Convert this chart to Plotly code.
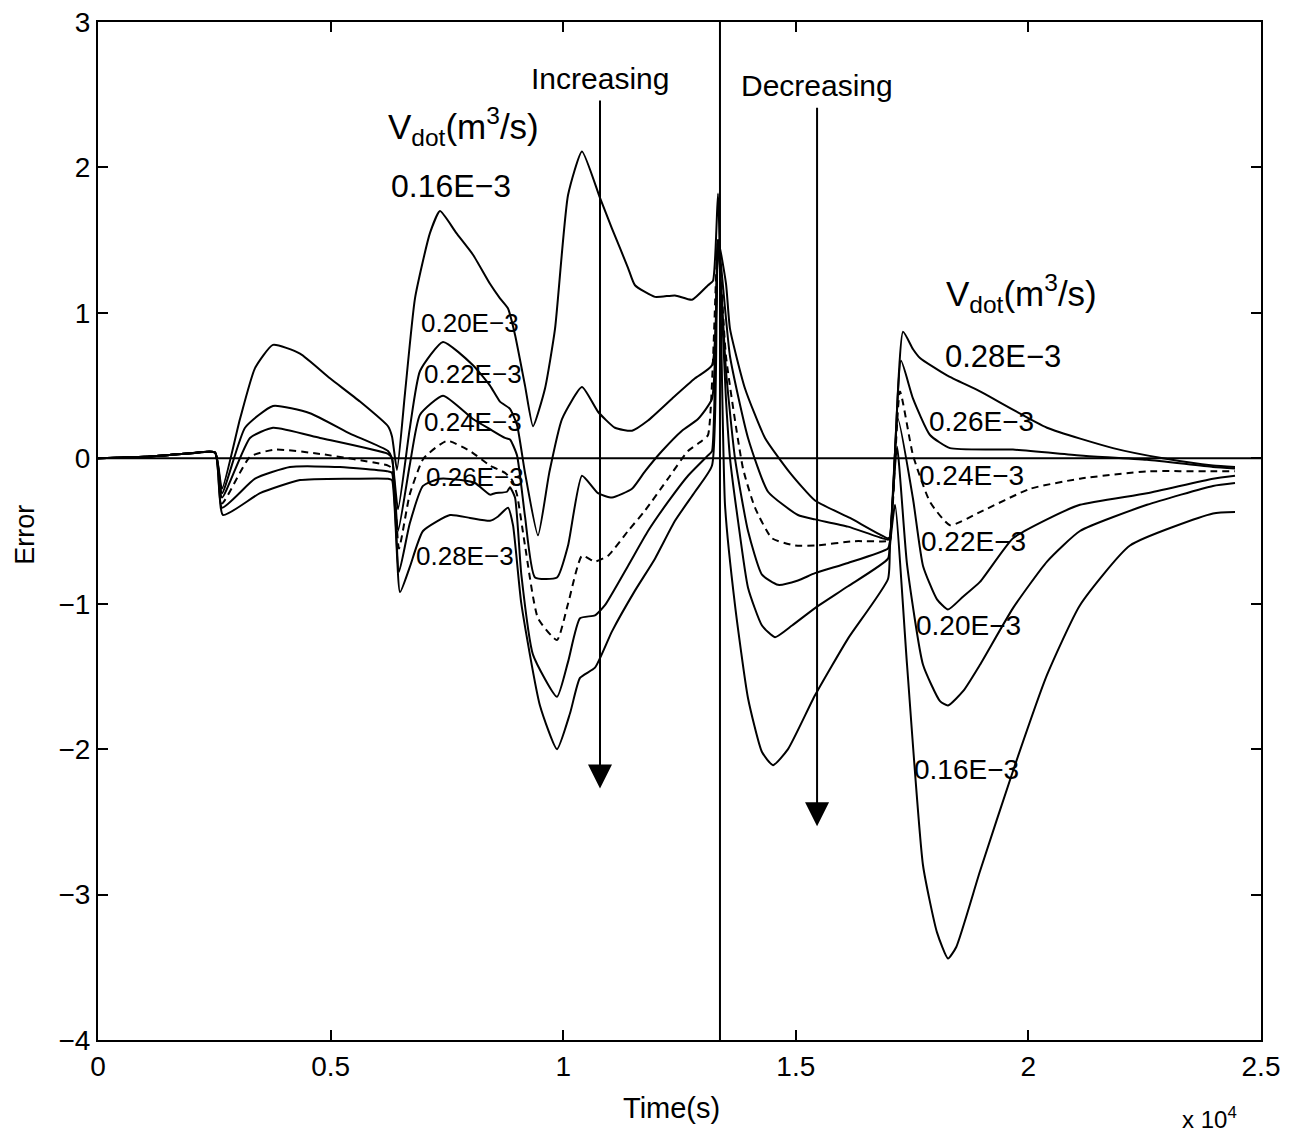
import plotly.graph_objects as go

# ---------------- data (time in seconds, error) ----------------
t_016 = [0, 1000, 2000, 2515, 2665, 3052, 3375, 3762, 4342, 4987, 5632, 6234, 6320, 6427, 6600, 6814,
         7137, 7352, 7700, 8061, 8426, 8641, 8814, 8964, 9179, 9351, 9609, 9824, 10104, 10404,
         10791, 11049, 11393, 11543, 11973, 12403, 12769, 13113, 13220, 13328, 13478, 13693, 13973,
         14273, 14510, 14833, 15413, 16122, 16982, 17025, 17133, 17391, 17735, 18035, 18272, 18450,
         18959, 19669, 20400, 21109, 22184, 23968, 24441]
e_016 = [0, 0.01, 0.035, 0.04, -0.21, 0.27, 0.62, 0.78, 0.72, 0.55, 0.39, 0.22, 0.15, -0.08, 0.45, 1.10,
         1.55, 1.70, 1.55, 1.40, 1.20, 1.10, 1.03, 0.85, 0.50, 0.22, 0.48, 0.89, 1.81, 2.11,
         1.79, 1.58, 1.31, 1.19, 1.11, 1.12, 1.09, 1.19, 1.22, 1.82, -0.32, -1.01, -1.65,
         -2.02, -2.11, -2.00, -1.63, -1.24, -0.83, -0.60, -0.32, -1.42, -2.80, -3.26, -3.44, -3.36,
         -2.84, -2.15, -1.49, -1.01, -0.60, -0.38, -0.37]

t_020 = [0, 1000, 2000, 2515, 2665, 3160, 3762, 4557, 5417, 6234, 6320, 6449, 6700, 6922, 7416, 8061,
         8426, 8641, 8856, 9007, 9179, 9458, 9700, 9974, 10404, 10748, 11113, 11479, 11823, 12339,
         12833, 13199, 13328, 13500, 13586, 13758, 13973, 14273, 14553, 14919, 15413, 16122, 16982,
         17025, 17176, 17391, 17735, 18100, 18272, 18600, 18959, 19669, 20400, 21109, 22549, 23968, 24441]
e_020 = [0, 0.01, 0.035, 0.04, -0.24, 0.21, 0.36, 0.31, 0.17, 0.05, 0.0, -0.35, 0.20, 0.60, 0.80, 0.64,
         0.50, 0.39, 0.34, 0.23, -0.10, -0.53, -0.10, 0.27, 0.49, 0.32, 0.21, 0.19, 0.26, 0.41,
         0.55, 0.64, 1.50, 0.40, 0.0, -0.43, -0.89, -1.15, -1.23, -1.15, -1.03, -0.88, -0.69,
         -0.57, 0.08, -0.73, -1.42, -1.67, -1.70, -1.60, -1.42, -1.03, -0.71, -0.50, -0.32, -0.19, -0.17]

t_022 = [0, 1000, 2000, 2515, 2665, 3267, 3762, 4772, 6234, 6320, 6449, 6700, 6922, 7416, 8061, 8426,
         8749, 8856, 9007, 9179, 9394, 9867, 10104, 10404, 10748, 11049, 11479, 11758, 12124, 12554,
         12898, 13199, 13328, 13500, 13693, 13973, 14273, 14618, 15047, 15413, 16122, 16982, 17025,
         17197, 17520, 17735, 18035, 18272, 18600, 18959, 19669, 20400, 21109, 22549, 23968, 24441]
e_022 = [0, 0.01, 0.035, 0.04, -0.27, 0.14, 0.21, 0.14, 0.03, 0.0, -0.50, -0.05, 0.30, 0.43, 0.27, 0.20,
         0.14, 0.13, 0.02, -0.40, -0.82, -0.82, -0.60, -0.12, -0.24, -0.27, -0.21, -0.09, 0.05, 0.19,
         0.27, 0.41, 1.50, 0.60, 0.0, -0.50, -0.80, -0.87, -0.84, -0.79, -0.72, -0.62, -0.57,
         0.27, -0.28, -0.74, -0.97, -1.04, -0.95, -0.85, -0.55, -0.42, -0.32, -0.24, -0.14, -0.12]

t_024 = [0, 1000, 2000, 2515, 2665, 3267, 3805, 4772, 6234, 6320, 6470, 6700, 7000, 7502, 7997, 8426,
         8749, 8900, 9007, 9179, 9458, 9867, 10104, 10404, 10683, 10963, 11393, 11758, 12253, 12683,
         12984, 13113, 13328, 13500, 13865, 14123, 14489, 14983, 15413, 16272, 16982, 17025, 17240,
         17520, 17885, 18315, 18959, 20034, 21109, 22549, 23968, 24441]
e_024 = [0, 0.01, 0.035, 0.04, -0.31, 0.01, 0.06, 0.03, -0.05, -0.07, -0.62, -0.25, 0.0, 0.12, 0.05, -0.05,
         -0.10, -0.15, -0.25, -0.60, -1.10, -1.25, -1.00, -0.67, -0.71, -0.67, -0.50, -0.36, -0.14, 0.05,
         0.12, 0.16, 1.50, 0.70, -0.07, -0.34, -0.55, -0.60, -0.60, -0.57, -0.57, -0.56, 0.46,
         0.02, -0.30, -0.46, -0.37, -0.21, -0.14, -0.09, -0.09, -0.09]

t_026 = [0, 1000, 2000, 2515, 2665, 3375, 4127, 5202, 6234, 6320, 6470, 6700, 6986, 7352, 7800, 8104,
         8426, 8534, 8792, 8856, 8964, 9100, 9350, 9867, 10104, 10361, 10683, 10898, 11393, 11823,
         12253, 12683, 13113, 13199, 13328, 13586, 13973, 14403, 15047, 15413, 16122, 16982, 17025,
         17262, 17520, 17885, 18315, 19669, 21109, 22549, 23968, 24441]
e_026 = [0, 0.01, 0.035, 0.04, -0.34, -0.14, -0.06, -0.06, -0.09, -0.10, -0.78, -0.45, -0.19, -0.14, -0.15, -0.17,
         -0.25, -0.24, -0.23, -0.20, -0.27, -0.80, -1.35, -1.64, -1.40, -1.10, -1.08, -1.01, -0.74, -0.50,
         -0.30, -0.12, 0.02, 0.05, 1.50, 0.70, 0.14, -0.23, -0.39, -0.42, -0.47, -0.56, -0.55,
         0.67, 0.41, 0.16, 0.07, 0.06, 0.02, -0.01, -0.06, -0.07]

t_028 = [0, 1000, 2000, 2515, 2687, 3483, 4342, 5417, 6234, 6320, 6492, 6700, 6986, 7567, 7997, 8426,
         8600, 8814, 8921, 9100, 9500, 9867, 10150, 10361, 10683, 11049, 11543, 11973, 12403, 12833,
         13199, 13328, 13500, 13586, 13908, 14338, 14876, 15413, 16165, 16982, 17025, 17305, 17520,
         17670, 18250, 18959, 20400, 21818, 22893, 23968, 24441]
e_028 = [0, 0.01, 0.035, 0.04, -0.39, -0.24, -0.15, -0.14, -0.14, -0.15, -0.92, -0.75, -0.50, -0.39, -0.41, -0.43,
         -0.40, -0.34, -0.46, -1.00, -1.70, -2.00, -1.75, -1.51, -1.44, -1.19, -0.91, -0.69, -0.43, -0.23,
         -0.05, 1.50, 1.20, 0.89, 0.48, 0.14, -0.10, -0.29, -0.41, -0.55, -0.54, 0.87, 0.75,
         0.69, 0.57, 0.46, 0.21, 0.07, 0.0, -0.05, -0.06]

series = [
    ("0.16E-3", t_016, e_016, "solid"),
    ("0.20E-3", t_020, e_020, "solid"),
    ("0.22E-3", t_022, e_022, "solid"),
    ("0.24E-3", t_024, e_024, "dash"),
    ("0.26E-3", t_026, e_026, "solid"),
    ("0.28E-3", t_028, e_028, "solid"),
]

x_tickvals = [0, 5000, 10000, 15000, 20000, 25000]
x_ticktext = ["0", "0.5", "1", "1.5", "2", "2.5"]
y_tickvals = [-4, -3, -2, -1, 0, 1, 2, 3]

switch_time = 13370
arrow_inc_x, arrow_inc_top, arrow_inc_tip = 10791, 2.47, -2.27
arrow_dec_x, arrow_dec_top, arrow_dec_tip = 15457, 2.42, -2.53

# ---------------- figure ----------------
FONT = "Liberation Sans, Arial, sans-serif"
fig = go.Figure()
for name, t, e, dash in series:
    fig.add_trace(go.Scatter(
        x=t, y=e, mode="lines", name=name,
        line=dict(color="black", width=2, dash=("7px,5px" if dash == "dash" else "solid"),
                  shape="spline", smoothing=0.5),
        showlegend=False, hoverinfo="skip"))

fig.add_shape(type="line", x0=0, x1=25000, y0=0, y1=0, xref="x", yref="y",
              line=dict(color="black", width=2))
fig.add_shape(type="line", x0=switch_time, x1=switch_time, y0=-4, y1=3, xref="x", yref="y",
              line=dict(color="black", width=2))

# arrows
for ax_x, top, tip in [(arrow_inc_x, arrow_inc_top, arrow_inc_tip),
                       (arrow_dec_x, arrow_dec_top, arrow_dec_tip)]:
    fig.add_annotation(x=ax_x, y=tip, ax=ax_x, ay=top, xref="x", yref="y", axref="x", ayref="y",
                       text="", showarrow=True, arrowhead=2, arrowsize=2.4, arrowwidth=2,
                       arrowcolor="black")

def label(x, y, text, size, anchor="left"):
    fig.add_annotation(x=x, y=y, xref="x", yref="y", text=text, showarrow=False,
                       xanchor=anchor, yanchor="middle",
                       font=dict(family=FONT, size=size, color="black"))

label(arrow_inc_x, 2.61, "Increasing", 30, "center")
label(arrow_dec_x, 2.56, "Decreasing", 30, "center")
label(6200, 2.28, "V<sub>dot</sub>(m<sup>3</sup>/s)", 35)
label(6250, 1.87, "0.16E\u22123", 32)
label(18180, 1.13, "V<sub>dot</sub>(m<sup>3</sup>/s)", 35)
label(18170, 0.70, "0.28E\u22123", 31)
label(17820, 0.25, "0.26E\u22123", 28)
label(17600, -0.12, "0.24E\u22123", 28)
label(17650, -0.57, "0.22E\u22123", 28)
label(17540, -1.15, "0.20E\u22123", 28)
label(17500, -2.14, "0.16E\u22123", 28)
label(6900, 0.93, "0.20E\u22123", 26)
label(6960, 0.58, "0.22E\u22123", 26)
label(6960, 0.25, "0.24E\u22123", 26)
label(7000, -0.13, "0.26E\u22123", 26)
label(6790, -0.67, "0.28E\u22123", 26)

# axis titles
fig.add_annotation(x=0.493, y=-0.067, xref="paper", yref="paper", text="Time(s)", showarrow=False,
                   xanchor="center", yanchor="middle", font=dict(family=FONT, size=29, color="black"))
fig.add_annotation(x=-0.063, y=0.496, xref="paper", yref="paper", text="Error", showarrow=False,
                   textangle=-90, xanchor="center", yanchor="middle",
                   font=dict(family=FONT, size=27, color="black"))
fig.add_annotation(x=0.956, y=-0.0765, xref="paper", yref="paper", text="x 10<sup>4</sup>",
                   showarrow=False, xanchor="center", yanchor="middle",
                   font=dict(family=FONT, size=24, color="black"))

axis_common = dict(showgrid=False, zeroline=False, showline=True, linecolor="black", linewidth=2,
                   mirror="ticks", ticks="inside", ticklen=10, tickwidth=1.5, tickcolor="black",
                   automargin=False, ticklabeloverflow="allow",
                   tickfont=dict(family=FONT, size=28, color="black"))
fig.update_xaxes(range=[0, 25000], tickvals=x_tickvals, ticktext=x_ticktext, **axis_common)
fig.update_yaxes(range=[-4, 3], tickvals=y_tickvals, **axis_common)

# page body has an 8px margin, so the figure is sized to fit the window
fig.update_layout(width=1274, height=1127, plot_bgcolor="white", paper_bgcolor="white",
                  margin=dict(l=90, r=21, t=14, b=95), showlegend=False)

fig.write_html("out.html")
